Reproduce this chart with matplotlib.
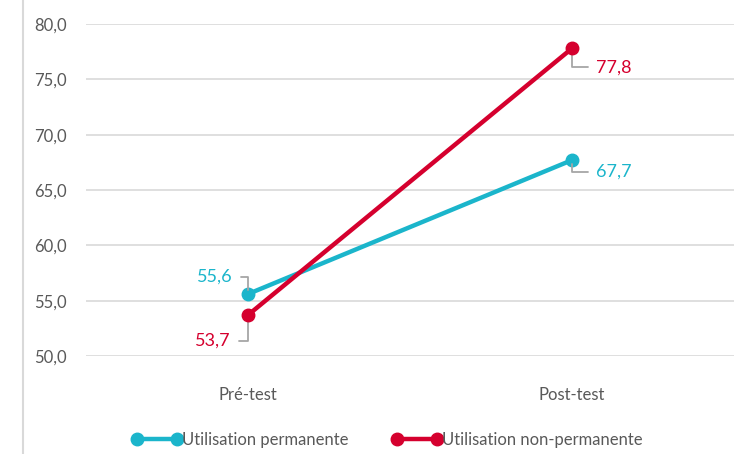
import matplotlib.pyplot as plt
from matplotlib.lines import Line2D

# DATA
categories = ['Pré-test', 'Post-test']
permanente = [55.6, 67.7]
non_permanente = [53.7, 77.8]
series_names = ['Utilisation permanente', 'Utilisation non-permanente']
y_ticks = [50, 55, 60, 65, 70, 75, 80]

# STYLE
cyan = '#1BB5CB'
red = '#D5002E'
grey_txt = '#595959'
plt.rcParams['font.family'] = ['Lato', 'DejaVu Sans']

fig = plt.figure(figsize=(7.41, 4.54), dpi=100)
ax = fig.add_axes([86/741, 1-356/454, (734-86)/741, (356-24)/454])

x = [0.5, 1.5]
ax.plot(x, permanente, color=cyan, lw=3.2, marker='o', ms=9, solid_capstyle='round', zorder=3)
ax.plot(x, non_permanente, color=red, lw=3.2, marker='o', ms=9, solid_capstyle='round', zorder=4)

ax.set_xlim(0, 2)
ax.set_ylim(50, 80)
ax.set_yticks(y_ticks)
ax.set_yticklabels([f'{v:.1f}'.replace('.', ',') for v in y_ticks])
ax.set_xticks(x)
ax.set_xticklabels(categories)
ax.tick_params(axis='both', length=0, labelsize=12, colors=grey_txt)
ax.tick_params(axis='x', pad=22)
ax.tick_params(axis='y', pad=14)
ax.grid(axis='y', color='#D9D9D9', lw=1.2)
ax.set_axisbelow(True)
for s in ax.spines.values():
    s.set_visible(False)

# data labels with leader lines
def label(xv, yv, color, dx, dy):
    rel = (1, 0.5) if dx < 0 else (0, 0.5)
    ax.annotate(f'{yv:.1f}'.replace('.', ','), xy=(xv, yv), xytext=(dx, dy),
                textcoords='offset pixels', ha='center', va='center',
                fontsize=13, color=color,
                arrowprops=dict(arrowstyle='-', color='#A6A6A6', lw=1.3,
                                connectionstyle='angle,angleA=0,angleB=90,rad=0',
                                relpos=rel, shrinkA=4, shrinkB=3))

label(x[0], permanente[0], cyan, -33, 17)
label(x[0], non_permanente[0], red, -35, -26)
label(x[1], non_permanente[1], red, 42, -19)
label(x[1], permanente[1], cyan, 42, -12)

handles = [Line2D([], [], color=cyan, lw=3.2, marker='o', ms=9),
           Line2D([], [], color=red, lw=3.2, marker='o', ms=9)]
fig.legend(handles, series_names, loc='center', bbox_to_anchor=(387/741, 1-440/454),
           ncol=2, frameon=False, numpoints=2, handlelength=3.0, handletextpad=0.0,
           columnspacing=2.6, prop={'size': 12}, labelcolor=grey_txt)

fig.add_artist(Line2D([23/741, 23/741], [0, 1], color='#D9D9D9', lw=1.5))

fig.savefig('out.png', dpi=100)
